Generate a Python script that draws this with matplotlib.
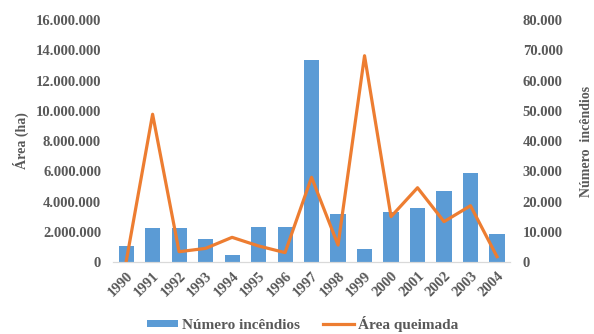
import matplotlib.pyplot as plt
from matplotlib.ticker import FuncFormatter

plt.rcParams['font.family'] = ['Liberation Serif', 'DejaVu Serif']
plt.rcParams['font.weight'] = 'bold'

anos = ['1990', '1991', '1992', '1993', '1994', '1995', '1996', '1997',
        '1998', '1999', '2000', '2001', '2002', '2003', '2004']
# número de incêndios por ano
incendios = [5300, 11300, 11300, 7500, 2400, 11700, 11700, 66800,
             15900, 4200, 16400, 17900, 23500, 29300, 9300]
# área queimada (ha)
area = [0, 9770000, 680000, 900000, 1630000, 1060000, 620000, 5600000,
        1120000, 13640000, 3000000, 4910000, 2670000, 3720000, 350000]

cinza = '#595959'
azul = '#5B9BD5'
laranja = '#ED7D31'


def pontos(v, pos):
    return f'{int(v):,}'.replace(',', '.')


fig = plt.figure(figsize=(5.94, 3.34), dpi=100)
ax = fig.add_axes([0.19, 0.2156, 0.669, 0.7244])
ax2 = ax.twinx()

x = list(range(len(anos)))
b = ax2.bar(x, incendios, width=0.57, color=azul, label='Número incêndios')
l, = ax.plot(x, area, color=laranja, lw=2.3, label='Área queimada')

# linha por cima das barras
ax.set_zorder(ax2.get_zorder() + 1)
ax.patch.set_visible(False)

ax.set_xlim(-0.5, len(anos) - 0.5)
ax.set_ylim(0, 16000000)
ax2.set_ylim(0, 80000)
ax.set_yticks(range(0, 16000001, 2000000))
ax2.set_yticks(range(0, 80001, 10000))
ax.yaxis.set_major_formatter(FuncFormatter(pontos))
ax2.yaxis.set_major_formatter(FuncFormatter(pontos))

ax.set_xticks(x)
ax.set_xticklabels(anos, rotation=45, ha='right', rotation_mode='anchor')

for a in (ax, ax2):
    for s in ('top', 'left', 'right'):
        a.spines[s].set_visible(False)
    a.spines['bottom'].set_color('#D9D9D9')
    a.tick_params(length=0, colors=cinza, labelsize=10.5)
ax.tick_params(axis='y', pad=8.5)
ax2.tick_params(axis='y', pad=9)
ax.tick_params(axis='x', pad=5)

ax.set_ylabel('Área (ha)', color=cinza, fontsize=10, fontweight='bold')
ax2.set_ylabel('Número  incêndios', color=cinza, fontsize=10, fontweight='bold')
ax.yaxis.set_label_coords(-0.21, 0.5)
ax2.yaxis.set_label_coords(1.175, 0.5)

fig.legend([b, l], ['Número incêndios', 'Área queimada'], loc='lower center',
           bbox_to_anchor=(0.51, -0.035), ncol=2, frameon=False, fontsize=11,
           labelcolor=cinza, handlelength=2.0, handleheight=0.4,
           handletextpad=0.3, columnspacing=1.5)

fig.savefig('out.png', dpi=100)
